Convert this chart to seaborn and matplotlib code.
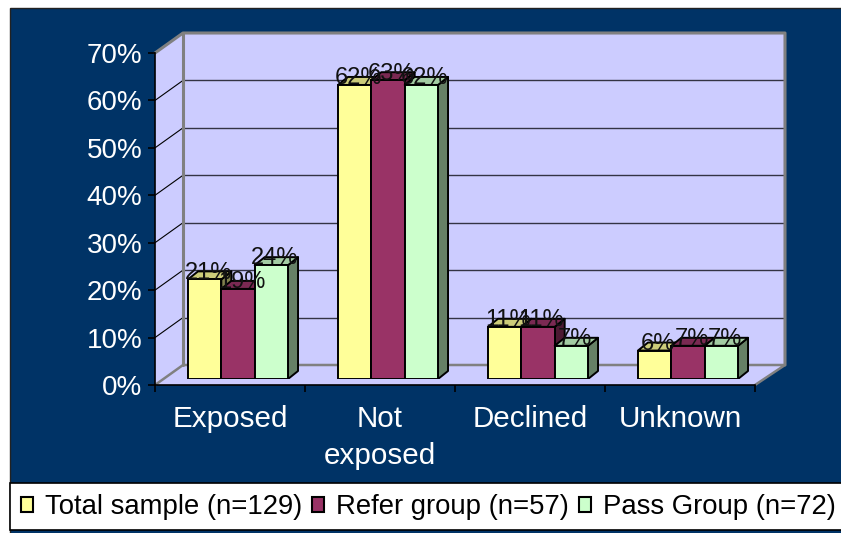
import matplotlib
matplotlib.use("Agg")
import matplotlib.pyplot as plt
from matplotlib.patches import Patch, Polygon, Rectangle
from matplotlib.colors import to_rgb
import seaborn as sns
import pandas as pd

categories = ["Exposed", "Not\nexposed", "Declined", "Unknown"]
groups = ["Total sample (n=129)", "Refer group (n=57)", "Pass Group (n=72)"]
total_sample = [21, 62, 11, 6]
refer_group = [19, 63, 11, 7]
pass_group = [24, 62, 7, 7]
y_ticks = [0, 10, 20, 30, 40, 50, 60, 70]

colors = ["#FFFF99", "#993366", "#CCFFCC"]
NAVY = "#003366"
WALL = "#CCCCFF"
W, H = 841, 533

sns.set_style("white")
plt.rcParams['font.family'] = ['Liberation Sans', 'DejaVu Sans']

df = pd.DataFrame({
    "category": categories * 3,
    "group": [g for g in groups for _ in categories],
    "value": total_sample + refer_group + pass_group,
})


def px_axes(fig, left, top, right, bottom):
    # axes placed by pixel box, y measured from the top of the image
    return fig.add_axes([left / W, 1 - bottom / H, (right - left) / W, (bottom - top) / H])


def shade(color, factor):
    return tuple(c * factor for c in to_rgb(color))


fig = plt.figure(figsize=(W / 100, H / 100), dpi=100, facecolor="white")

# Background panel in pixel coordinates
bg = fig.add_axes([0, 0, 1, 1])
bg.set_xlim(0, W)
bg.set_ylim(H, 0)
bg.axis("off")
bg.add_patch(Rectangle((10, 8), W, H, facecolor=NAVY, edgecolor="#222222", lw=1))

# Chart walls
bg.add_patch(Polygon([(183, 33), (785, 33), (785, 365), (183, 365)], facecolor=WALL, edgecolor="none"))
bg.add_patch(Polygon([(155, 53), (183, 33), (183, 365), (155, 385)], facecolor=WALL, edgecolor="none"))
bg.add_patch(Polygon([(155, 385), (183, 365), (785, 365), (755, 385)], facecolor=WALL, edgecolor="none"))

for t in y_ticks[1:-1]:
    y_back = 365 - t * 332 / 70
    bg.plot([183, 785], [y_back, y_back], color="#333344", lw=1.0, solid_capstyle="butt")
    bg.plot([155, 183], [y_back + 20, y_back], color="black", lw=0.8)
bg.plot([155, 183, 785, 785], [53, 33, 33, 365], color="#808080", lw=2.2)
bg.plot([183, 183], [33, 365], color="#808080", lw=2.2)
bg.plot([155, 183, 785, 755], [385, 365, 365, 385], color="#808080", lw=1.8)

# Front axes carrying the ticks and labels
front = px_axes(fig, 155, 53, 755, 385)
front.patch.set_alpha(0)
front.set_xlim(0, 4)
front.set_ylim(0, 70)
front.set_yticks(y_ticks)
front.set_yticklabels([f"{t}%" for t in y_ticks], color="white", fontsize=20)
front.set_xticks(range(5))
front.set_xticklabels([])
front.tick_params(axis="both", length=5, width=1.2, color="black", left=True, bottom=True, pad=4)
for i, name in enumerate(categories):
    front.annotate(name, (i + 0.5, 0), xytext=(0, -14.5), textcoords="offset points",
                   ha="center", va="top", color="white", fontsize=21.3, linespacing=1.42)
sns.despine(ax=front, top=True, right=True)
front.spines["left"].set_color("black")
front.spines["bottom"].set_color("black")
front.spines["left"].set_linewidth(1.2)
front.spines["bottom"].set_linewidth(1.2)

# Bars sit on a plane a little behind the front edge
ax = px_axes(fig, 163, 47, 763, 379)
ax.patch.set_alpha(0)
sns.barplot(data=df, x="category", y="value", hue="group", palette=colors,
            hue_order=groups, order=categories, width=0.667, gap=0,
            saturation=1, legend=False, ax=ax, edgecolor="black", linewidth=1.4)
ax.set_xlim(-0.5, 3.5)
ax.set_ylim(0, 70)
ax.axis("off")

# Extrude each bar into a box, left to right so neighbours overlap correctly
depth_x = 10 * 4 / 600
depth_y = 8 * 70 / 332
bars = []
for n, bar in enumerate(ax.patches):
    bars.append((bar.get_x(), n % 4, n // 4, bar))
bars.sort(key=lambda b: b[0])
for z, (x0, cat_i, grp_i, bar) in enumerate(bars):
    w = bar.get_width()
    h = bar.get_height()
    col = colors[grp_i]
    zo = 3 + z * 3
    side = Polygon([(x0 + w, 0), (x0 + w + depth_x, depth_y), (x0 + w + depth_x, h + depth_y), (x0 + w, h)],
                   facecolor=shade(col, 0.5), edgecolor="black", lw=1.4, zorder=zo, joinstyle="round")
    top = Polygon([(x0, h), (x0 + depth_x, h + depth_y), (x0 + w + depth_x, h + depth_y), (x0 + w, h)],
                  facecolor=shade(col, 0.8), edgecolor="black", lw=1.4, zorder=zo + 1, joinstyle="round")
    ax.add_patch(side)
    ax.add_patch(top)
    bar.set_zorder(zo + 2)

# Data labels go on top of all boxes
for x0, cat_i, grp_i, bar in bars:
    ax.annotate(f"{bar.get_height():.0f}%", (x0 + bar.get_width() / 2, bar.get_height()),
                xytext=(2.5, 0.5), textcoords="offset points", ha="center", va="baseline",
                fontsize=17, color="#111111", zorder=100, annotation_clip=False)

# Legend strip
bg.add_patch(Rectangle((10, 483), W, 47, facecolor="white", edgecolor="black", lw=1.2))
handles = [Patch(facecolor=c, edgecolor="black", lw=1.5) for c in colors]
bg.legend(handles, groups, loc="center left", bbox_to_anchor=(21 / W, 1 - 507 / H), ncol=3, frameon=False,
          fontsize=19.8, handlelength=0.45, handleheight=0.45, handletextpad=0.42, columnspacing=0.36,
          borderpad=0, borderaxespad=0, labelcolor="black")

fig.savefig("out.png", dpi=100, facecolor="white")
